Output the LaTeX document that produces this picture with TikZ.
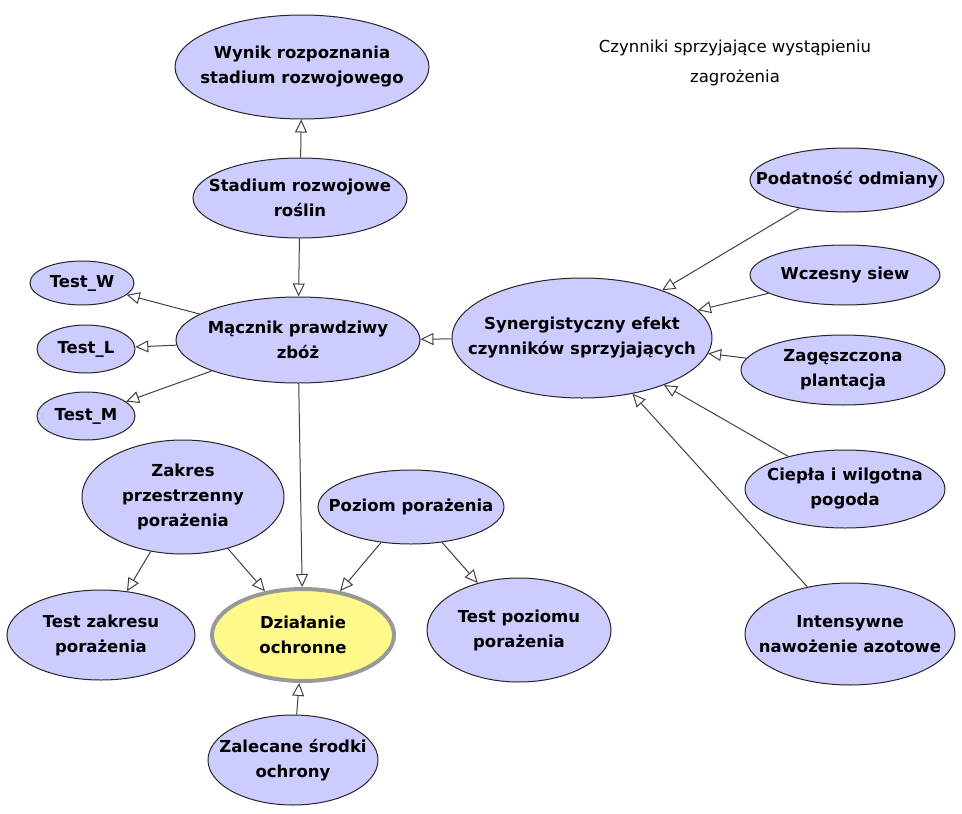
\documentclass[tikz,border=0pt]{standalone}
\usepackage{fontspec}
\setmainfont{DejaVu Sans}
\usetikzlibrary{shapes.geometric,arrows.meta}
\tikzset{
  bn/.style={ellipse, draw=black!85, line width=1pt, fill=blue!20, inner xsep=-30pt, inner ysep=-10pt,
    align=center, font=\fontsize{16.5}{25}\selectfont\bfseries},
  dec/.style={bn, fill=yellow!45, draw=black!40, line width=4pt},
  arc/.style={draw=black!75, line width=1pt, -{Triangle[open, length=13pt, width=12pt]}}
}
\begin{document}
\begin{tikzpicture}[x=1pt,y=-1pt]
    \useasboundingbox (0,0) rectangle (962,814);
    \node[bn, minimum width=254pt, minimum height=104pt] (wynik) at (302,67) {Wynik rozpoznania\\stadium rozwojowego};
    \node[bn, minimum width=214pt, minimum height=80pt] (stadium) at (300,198) {Stadium rozwojowe\\roślin};
    \node[bn, minimum width=104pt, minimum height=44pt] (testw) at (82,283) {Test\_W};
    \node[bn, minimum width=98pt, minimum height=48pt] (testl) at (86,349) {Test\_L};
    \node[bn, minimum width=98pt, minimum height=48pt] (testm) at (86,416) {Test\_M};
    \node[bn, minimum width=244pt, minimum height=86pt] (macznik) at (298,340) {Mącznik prawdziwy\\zbóż};
    \node[bn, minimum width=260pt, minimum height=120pt] (syn) at (582,338) {Synergistyczny efekt\\czynników sprzyjających};
    \node[bn, minimum width=194pt, minimum height=64pt] (podatnosc) at (847,180) {Podatność odmiany};
    \node[bn, minimum width=190pt, minimum height=60pt] (siew) at (845,275) {Wczesny siew};
    \node[bn, minimum width=204pt, minimum height=70pt] (plantacja) at (843,370) {Zagęszczona\\plantacja};
    \node[bn, minimum width=200pt, minimum height=78pt] (pogoda) at (845,489) {Ciepła i wilgotna\\pogoda};
    \node[bn, minimum width=210pt, minimum height=102pt] (azot) at (850,634) {Intensywne\\nawożenie azotowe};
    \node[bn, minimum width=202pt, minimum height=114pt] (zakres) at (183,497) {Zakres\\przestrzenny\\porażenia};
    \node[bn, minimum width=186pt, minimum height=74pt] (poziom) at (411,507) {Poziom porażenia};
    \node[bn, minimum width=188pt, minimum height=90pt] (testz) at (101,635) {Test zakresu\\porażenia};
    \node[dec, minimum width=182pt, minimum height=92pt] (dzialanie) at (303,635) {Działanie\\ochronne};
    \node[bn, minimum width=184pt, minimum height=104pt] (testp) at (519,630) {Test poziomu\\porażenia};
    \node[bn, minimum width=170pt, minimum height=90pt] (srodki) at (293,760) {Zalecane środki\\ochrony};
    \node[align=center, font=\fontsize{16.5}{30}\selectfont] (tytul) at (735,63) {Czynniki sprzyjające wystąpieniu\\zagrożenia};

    \draw[arc] (stadium) -- (wynik);
    \draw[arc] (stadium) -- (macznik);
    \foreach \t in {testw,testl,testm,dzialanie}
      \draw[arc] (macznik) -- (\t);
    \draw[arc] (syn) -- (macznik);
    \foreach \f in {podatnosc,siew,plantacja,pogoda,azot}
      \draw[arc] (\f) -- (syn);
    \draw[arc] (zakres) -- (testz);
    \draw[arc] (zakres) -- (dzialanie);
    \draw[arc] (poziom) -- (dzialanie);
    \draw[arc] (poziom) -- (testp);
    \draw[arc] (srodki) -- (dzialanie);
  \end{tikzpicture}
\end{document}
